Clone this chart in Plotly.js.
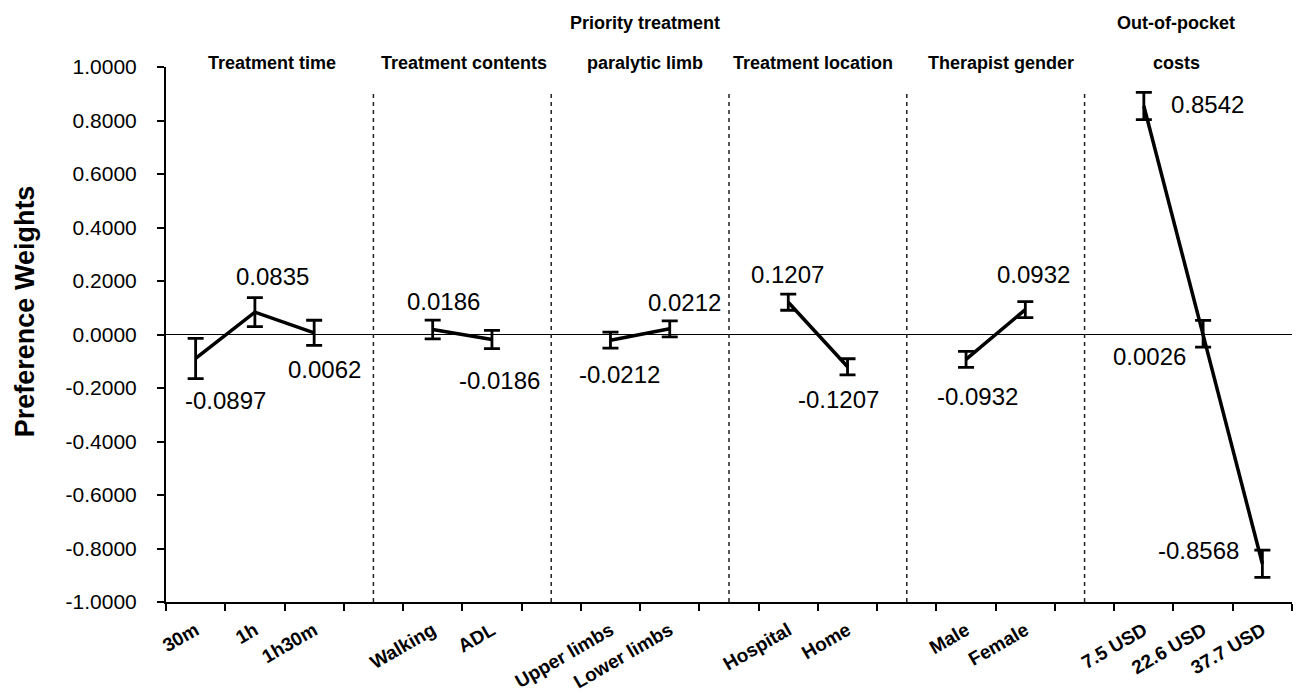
<!DOCTYPE html>
<html>
<head>
<meta charset="utf-8">
<script src="https://cdn.plot.ly/plotly-3.0.1.min.js"></script>
<style>html,body{margin:0;padding:0;background:#fff;}#chart{width:1296px;height:696px;}</style>
</head>
<body>
<div id="chart"></div>
<script>
// Categories (blank entries are the gaps holding the dashed separators)
const categories = ["30m","1h","1h30m"," ","Walking","ADL","  ","Upper limbs","Lower limbs","   ","Hospital","Home","    ","Male","Female","     ","7.5 USD","22.6 USD","37.7 USD"];
// Preference weights
const weights = [-0.0897, 0.0835, 0.0062, null, 0.0186, -0.0186, null, -0.0212, 0.0212, null, 0.1207, -0.1207, null, -0.0932, 0.0932, null, 0.8542, 0.0026, -0.8568];
// Error half-widths
const errors = [0.075, 0.054, 0.047, null, 0.035, 0.034, null, 0.030, 0.030, null, 0.030, 0.030, null, 0.030, 0.030, null, 0.051, 0.050, 0.051];
// Attribute group titles
const groupTitles = [["Treatment time"], ["Treatment contents"], ["Priority treatment", "paralytic limb"], ["Treatment location"], ["Therapist gender"], ["Out-of-pocket", "costs"]];
// Y tick values / labels
const yTickVals = [-1, -0.8, -0.6, -0.4, -0.2, 0, 0.2, 0.4, 0.6, 0.8, 1];
const yTickLabels = ["-1.0000","-0.8000","-0.6000","-0.4000","-0.2000","0.0000","0.2000","0.4000","0.6000","0.8000","1.0000"];

// ---- styling / placement (not data) ----
const separatorIdx = [3, 6, 9, 12, 15];
const labelShift = [[30,-42],[18,36],[10,-37],null,[11,28],[8,-41],null,[9,-34],[15,26],null,[-1,28],[-9,-33],null,[11,-37],[8,35],null,[64,2],[-54,-23],[-64,13]];
const groupTitleX = [0.094, 0.265, 0.425, 0.575, 0.742, 0.897];
const FONT = "Liberation Sans, Arial, Helvetica, sans-serif";

const trace = {
  x: categories,
  y: weights,
  type: "scatter",
  mode: "lines",
  connectgaps: false,
  line: {color: "#000", width: 3.5},
  error_y: {type: "data", array: errors, visible: true, color: "#000", thickness: 2.8, width: 8},
  hoverinfo: "x+y"
};

const annotations = [];
weights.forEach((v, i) => {
  if (v === null) return;
  annotations.push({
    x: categories[i], y: v, xref: "x", yref: "y",
    text: v.toFixed(4), showarrow: false,
    xanchor: "center", yanchor: "middle",
    xshift: labelShift[i][0], yshift: labelShift[i][1],
    font: {family: FONT, size: 24, color: "#000"}
  });
});
groupTitles.forEach((lines, g) => {
  const ys = lines.length === 2 ? [1.082, 1.0075] : [1.0075];
  lines.forEach((t, k) => {
    annotations.push({
      x: groupTitleX[g], y: ys[k], xref: "paper", yref: "paper",
      text: t, showarrow: false, xanchor: "center", yanchor: "middle",
      font: {family: FONT, size: 18, color: "#000", weight: "bold"}
    });
  });
});
annotations.push({
  x: -0.125, y: 0.544, xref: "paper", yref: "paper",
  text: "Preference Weights", showarrow: false, textangle: -90,
  xanchor: "center", yanchor: "middle",
  font: {family: FONT, size: 27, color: "#000", weight: "bold"}
});

const shapes = separatorIdx.map(ix => ({
  type: "line", xref: "x", yref: "paper",
  x0: ix, x1: ix, y0: 0, y1: 0.957,
  line: {color: "#222", width: 1.5, dash: "4px,4px"}
}));

const layout = {
  width: 1296, height: 696,
  margin: {l: 166, r: 4, t: 67, b: 94, pad: 0},
  paper_bgcolor: "#fff", plot_bgcolor: "#fff",
  showlegend: false,
  font: {family: FONT, color: "#000"},
  xaxis: {
    type: "category",
    categoryorder: "array", categoryarray: categories,
    range: [-0.5, 18.5],
    showgrid: false, zeroline: false,
    showline: true, linecolor: "#000", linewidth: 2,
    ticks: "outside", tickson: "boundaries", ticklen: 7, tickwidth: 2, tickcolor: "#000",
    tickangle: -30,
    ticklabelstandoff: 8,
    tickfont: {family: FONT, size: 19, color: "#000", weight: "bold"},
    fixedrange: true
  },
  yaxis: {
    range: [-1, 1],
    tickmode: "array", tickvals: yTickVals, ticktext: yTickLabels,
    showgrid: false,
    zeroline: true, zerolinecolor: "#000", zerolinewidth: 1,
    showline: true, linecolor: "#000", linewidth: 2,
    ticks: "outside", ticklen: 7, tickwidth: 2, tickcolor: "#000",
    ticklabelstandoff: 16,
    tickfont: {family: FONT, size: 21, color: "#000"},
    fixedrange: true
  },
  annotations: annotations,
  shapes: shapes
};

Plotly.newPlot("chart", [trace], layout, {displayModeBar: false, staticPlot: true});
</script>
</body>
</html>
